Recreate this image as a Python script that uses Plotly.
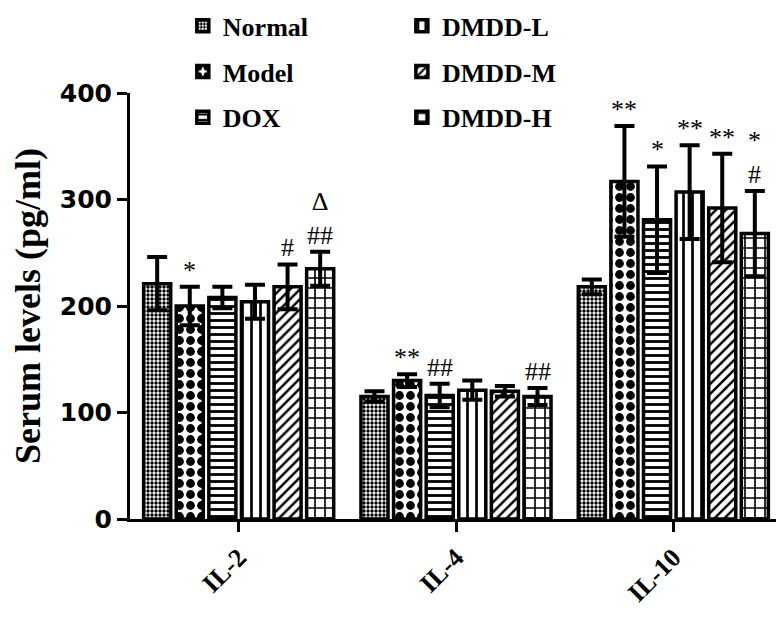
import plotly.graph_objects as go

categories = ["IL-2", "IL-4", "IL-10"]
groups = ["Normal", "Model", "DOX", "DMDD-L", "DMDD-M", "DMDD-H"]
means = {
    "Normal": [221, 115, 218],
    "Model": [200, 130, 317],
    "DOX": [208, 116, 281],
    "DMDD-L": [204, 121, 307],
    "DMDD-M": [218, 120, 292],
    "DMDD-H": [235, 115, 268],
}
sds = {
    "Normal": [25, 5, 7],
    "Model": [18, 6, 52],
    "DOX": [10, 11, 50],
    "DMDD-L": [16, 9, 44],
    "DMDD-M": [21, 5, 51],
    "DMDD-H": [16, 8, 40],
}
marks = {
    "Normal": ["", "", ""],
    "Model": ["*", "**", "**"],
    "DOX": ["", "##", "*"],
    "DMDD-L": ["", "", "**"],
    "DMDD-M": ["#", "", "**"],
    "DMDD-H": ["Δ<br>##", "##", "*<br>#"],
}
y_ticks = [0, 100, 200, 300, 400]

patterns = {
    "Normal": dict(shape=".", size=4, solidity=0.55),
    "Model": dict(shape=".", size=11, solidity=0.5),
    "DOX": dict(shape="-", size=7, solidity=0.4),
    "DMDD-L": dict(shape="|", size=9, solidity=0.3),
    "DMDD-M": dict(shape="/", size=7, solidity=0.35),
    "DMDD-H": dict(shape="+", size=10, solidity=0.3),
}

BARGAP = 0.1
BARGROUPGAP = 0.17
serif = "Liberation Serif"

fig = go.Figure()
for gi, g in enumerate(groups):
    pat = dict(patterns[g])
    pat.update(fgcolor="black", bgcolor="white", fillmode="replace")
    fig.add_trace(go.Bar(
        name=g, x=categories, y=means[g],
        marker=dict(color="white", line=dict(color="black", width=3.5), pattern=pat),
        error_y=dict(type="data", array=sds[g], color="black", thickness=4, width=10),
        legend="legend" if gi < 3 else "legend2",
        legendgroup=g,
    ))

slot = (1 - BARGAP) / len(groups)
annotations = []
for gi, g in enumerate(groups):
    for ci, c in enumerate(categories):
        t = marks[g][ci]
        if not t:
            continue
        annotations.append(dict(
            x=ci + (gi - (len(groups) - 1) / 2) * slot,
            y=means[g][ci] + sds[g][ci],
            xref="x", yref="y", text=t, showarrow=False,
            yanchor="bottom", yshift=0,
            font=dict(family=serif, size=26, color="black"),
        ))

legend_font = dict(family=serif, size=26, color="black", weight="bold")
fig.update_layout(
    width=784, height=621,
    margin=dict(l=122, r=10, t=85, b=110, autoexpand=False),
    plot_bgcolor="white", paper_bgcolor="white",
    barmode="group", bargap=BARGAP, bargroupgap=BARGROUPGAP,
    annotations=annotations,
    legend=dict(x=0.081, y=1.213, xref="paper", yref="paper",
                xanchor="left", yanchor="top",
                font=legend_font, tracegroupgap=9, bgcolor="rgba(0,0,0,0)"),
    legend2=dict(x=0.417, y=1.213, xref="paper", yref="paper",
                 xanchor="left", yanchor="top",
                 font=legend_font, tracegroupgap=9, bgcolor="rgba(0,0,0,0)"),
    xaxis=dict(
        automargin=False,
        showline=True, linecolor="black", linewidth=3,
        ticks="outside", ticklen=10, tickwidth=3, tickcolor="black",
        tickangle=-45,
        tickfont=dict(family=serif, size=26, color="black", weight="bold"),
        range=[-0.5, 2.5],
    ),
    yaxis=dict(
        automargin=False,
        range=[0, 400], tickvals=y_ticks,
        showline=True, linecolor="black", linewidth=3,
        ticks="outside", ticklen=10, tickwidth=3, tickcolor="black",
        showgrid=False, zeroline=False,
        tickfont=dict(family="DejaVu Sans", size=25, color="black", weight="bold"),
        title=dict(text="Serum levels (pg/ml)", standoff=20,
                   font=dict(family=serif, size=36, color="black", weight="bold")),
    ),
)

fig.write_html("out.html")
